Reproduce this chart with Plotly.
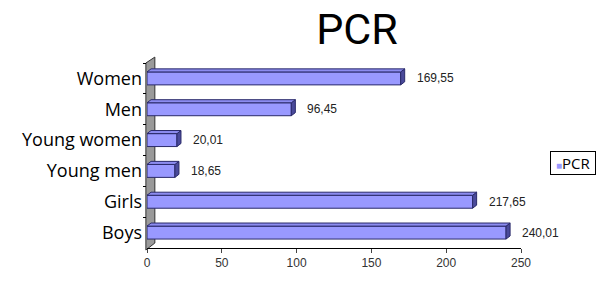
import plotly.graph_objects as go

categories = ["Women", "Men", "Young women", "Young men", "Girls", "Boys"]
values = [169.55, 96.45, 20.01, 18.65, 217.65, 240.01]
x_ticks = [0, 50, 100, 150, 200, 250]
series_name = "PCR"

fill = "#9999ff"
edge = "#2a2a6a"

fig = go.Figure()
fig.add_trace(go.Bar(
    y=categories, x=values, orientation="h", name=series_name,
    marker=dict(color=fill, line=dict(color=edge, width=1)),
    showlegend=False, hoverinfo="skip",
))

# 3D faces of bars (derived from data)
depth_x = 2.7
depth_y = 0.1
h = 0.21
shapes = []
# grey wall behind the bars
shapes.append(dict(type="path", xref="paper", yref="paper",
    path="M -0.003,-0.011 L -0.003,1.0 L 0.021,1.032 L 0.021,0.027 Z",
    fillcolor="#9a9a9a", line=dict(color="#333", width=1), layer="below"))
for i, v in enumerate(values):
    yc = i
    shapes.append(dict(type="path", xref="x", yref="y",
        path=f"M {v},{yc-h} L {v+depth_x},{yc-h-depth_y} L {v+depth_x},{yc+h-depth_y} L {v},{yc+h} Z",
        fillcolor="#4a4a9a", line=dict(color=edge, width=1), layer="above"))
    shapes.append(dict(type="path", xref="x", yref="y",
        path=f"M 0,{yc-h} L {depth_x},{yc-h-depth_y} L {v+depth_x},{yc-h-depth_y} L {v},{yc-h} Z",
        fillcolor="#8c8cf0", line=dict(color=edge, width=1), layer="above"))

annotations = []
for c, v in zip(categories, values):
    annotations.append(dict(x=v, y=c, xref="x", yref="y", xanchor="left", yanchor="middle",
        xshift=14, text=f"{v:.2f}".replace(".", ","), showarrow=False,
        font=dict(family="Liberation Sans, Arial", size=12, color="#222")))
# legend box
annotations.append(dict(x=1.139, y=0.459, xref="paper", yref="paper", xanchor="center", yanchor="middle",
    text=f"&nbsp;<span style='font-size:10px;color:{fill}'>■</span>{series_name}&nbsp;", showarrow=False,
    bordercolor="black", borderwidth=1, borderpad=1,
    font=dict(family="Open Sans, Lato", size=15, color="black")))

fig.update_layout(
    width=604, height=290,
    margin=dict(l=147, r=83, t=63, b=42),
    paper_bgcolor="white", plot_bgcolor="white",
    title=dict(text="PCR", x=0.591, xanchor="center", y=0.9, yanchor="middle",
               font=dict(family="Roboto, Open Sans", size=43, color="black")),
    bargap=0.58,
    showlegend=False,
    xaxis=dict(range=[0, 250], tickvals=x_ticks, showgrid=False, zeroline=False,
               showline=True, linecolor="black", ticks="outside", ticklen=4,
               tickfont=dict(family="Liberation Sans, Arial", size=12, color="#333")),
    yaxis=dict(autorange="reversed", showgrid=False, showline=False,
               ticks="outside", ticklen=3, tickcolor="black", tickson="boundaries",
               ticklabelstandoff=4,
               tickfont=dict(family="Open Sans, Lato", size=18, color="black")),
    shapes=shapes,
    annotations=annotations,
)
fig.write_html("out.html", config={"displayModeBar": False},
               post_script="document.body.style.margin='0';document.body.style.overflow='hidden';")
